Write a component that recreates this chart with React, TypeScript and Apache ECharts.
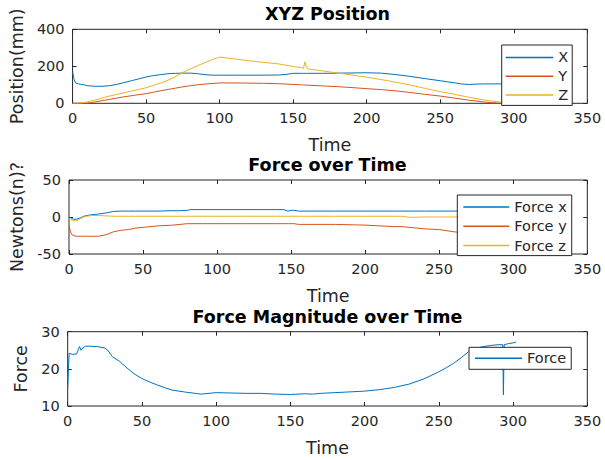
import React, { useEffect, useRef } from "react";
import * as echarts from "echarts";

// ---- Data ----
const posTime = [0, 1, 2, 4, 6, 8, 10, 12, 15, 20, 25, 30, 35, 40, 45, 50, 55, 60, 65, 70, 75, 80, 85, 90, 95, 100, 110, 120, 130, 140, 145, 150, 155, 157, 158, 159, 160, 170, 180, 190, 200, 210, 220, 230, 240, 250, 260, 265, 270, 275, 280, 285, 290, 295, 300];
const posX = [170, 130, 110, 105, 102, 100, 95, 94, 92, 92, 95, 102, 112, 122, 132, 142, 150, 155, 160, 162, 163, 163, 160, 155, 152, 152, 152, 152, 152, 153, 156, 162, 162, 162, 162, 162, 162, 162, 163, 164, 165, 163, 155, 145, 133, 122, 110, 104, 102, 104, 105, 105, 105, 105, 105];
const posY = [0, 0, 0, 0, 0, 0, 1, 3, 7, 14, 21, 28, 35, 41, 47, 52, 60, 68, 75, 82, 89, 95, 100, 104, 107, 110, 110, 109, 108, 106, 104, 102, 100, 99, 99, 98, 98, 94, 90, 85, 79, 74, 67, 58, 48, 39, 28, 22, 16, 12, 7, 3, 1, 0, 0];
const posZ = [0, 0, 0, 1, 2, 5, 8, 12, 17, 28, 39, 48, 57, 66, 75, 84, 97, 110, 125, 145, 167, 185, 203, 220, 236, 250, 240, 230, 221, 213, 206, 199, 193, 190, 224, 196, 186, 175, 164, 153, 141, 128, 114, 98, 80, 63, 48, 40, 32, 25, 18, 12, 7, 3, 1];

const forceTime = [0, 1, 2, 3, 5, 8, 10, 12, 15, 20, 25, 30, 35, 40, 45, 50, 60, 70, 75, 80, 82, 90, 100, 120, 140, 145, 148, 150, 152, 155, 160, 180, 200, 210, 220, 225, 230, 240, 250, 260, 270, 280, 290, 300];
const forceX = [0, -1, -2, -3, -3, -1, 1, 2, 3, 4, 5.5, 7.5, 8, 8, 8, 8, 8, 8.5, 8.5, 9, 10, 10, 10, 10, 10, 10, 8, 9, 9, 8, 8, 8, 8, 8, 8, 8, 8, 8, 8, 8, 8, 8, 8, 8];
const forceY = [-12, -20, -24, -25, -26, -26, -26, -26, -26, -26, -24, -20, -18, -17, -15, -14, -12, -11, -10, -9, -9, -9, -9, -9, -9, -9, -9, -9, -9, -10, -10, -10, -11, -12, -13, -13, -14, -16, -17, -20, -22, -22, -22, -22];
const forceZ = [-3, -4, -4, -5, -5, -2, 0, 1, 2, 2, 1.5, 1, 1, 1, 1, 1, 1, 1, 1, 1, 1, 1, 1, 1, 1, 1, 1, 1, 1, 1, 1, 1, 1, 1, 1, 1, -0.5, 0, 0, 0, 0, 0, 0, 0];

const magTime = [0, 0.5, 1, 3, 6, 7, 8, 9, 10, 12, 15, 20, 25, 27, 30, 35, 40, 45, 50, 55, 60, 65, 70, 80, 90, 100, 110, 120, 130, 140, 150, 160, 165, 170, 180, 190, 200, 210, 220, 230, 240, 250, 255, 260, 265, 270, 275, 280, 285, 290, 293, 293.5, 294, 297, 300, 302];
const magForce = [14.7, 20, 24.2, 23.9, 24, 25, 26, 25, 25.6, 26.1, 26.1, 26, 25.6, 25, 23.3, 22, 20.2, 18.6, 17.4, 16.5, 15.7, 15, 14.3, 13.7, 13.2, 13.6, 13.5, 13.4, 13.4, 13.2, 13.1, 13.3, 13.2, 13.4, 13.6, 13.8, 14, 14.4, 15, 15.9, 17.3, 19.2, 20.3, 21.5, 23, 24.6, 25.5, 26, 26.3, 26.5, 26.5, 13, 26.5, 26.8, 27, 27.2];

const xTicks = { min: 0, max: 350, interval: 50 };
const titles = ["XYZ Position", "Force over Time", "Force Magnitude over Time"];
const yNames = ["Position(mm)", "Newtons(n)?", "Force"];
const yRanges = [
  { min: 0, max: 400, interval: 200 },
  { min: -50, max: 50, interval: 50 },
  { min: 10, max: 30, interval: 10 },
];

const BLUE = "#0072BD";
const ORANGE = "#D95319";
const YELLOW = "#EDB120";
const INK = "#262626";
const FONT = "DejaVu Sans";

const zip = (t: number[], v: number[]) => t.map((x, i) => [x, v[i]]);

export default function App() {
  const ref = useRef<HTMLDivElement>(null);
  useEffect(() => {
    if (!ref.current) return;
    const chart = echarts.init(ref.current, undefined, { renderer: "svg" });
    const plotLeft = 67.7;
    const plotWidth = 519.6;
    const tops = [29.3, 180, 331.7];
    const heights = [74, 74, 74.3];
    const nameGaps = [43, 43, 33];

    const grids = tops.map((t, i) => ({
      left: plotLeft,
      top: t,
      width: plotWidth,
      height: heights[i],
      show: true,
      backgroundColor: "#fff",
      borderColor: INK,
      borderWidth: 1,
    }));

    const tick = { show: true, inside: true, length: 4, lineStyle: { color: INK } };
    const xAxes: any[] = [];
    const yAxes: any[] = [];
    for (let i = 0; i < 3; i++) {
      xAxes.push({
        type: "value",
        gridIndex: i,
        position: "bottom",
        ...xTicks,
        name: "Time",
        nameLocation: "middle",
        nameGap: 33,
        nameTextStyle: { fontSize: 17.5, color: INK, fontFamily: FONT },
        axisLine: { show: false, onZero: false },
        axisTick: tick,
        axisLabel: { fontSize: 14.5, color: INK, margin: 7, fontFamily: FONT },
        splitLine: { show: false },
      });
      xAxes.push({
        type: "value",
        gridIndex: i,
        position: "top",
        ...xTicks,
        axisLine: { show: false, onZero: false },
        axisTick: tick,
        axisLabel: { show: false },
        splitLine: { show: false },
      });
      yAxes.push({
        type: "value",
        gridIndex: i,
        position: "left",
        ...yRanges[i],
        name: yNames[i],
        nameLocation: "middle",
        nameGap: nameGaps[i],
        nameTextStyle: { fontSize: 17.5, color: INK, fontFamily: FONT },
        axisLine: { show: false, onZero: false },
        axisTick: tick,
        axisLabel: { fontSize: 14.5, color: INK, margin: 8, fontFamily: FONT },
        splitLine: { show: false },
      });
      yAxes.push({
        type: "value",
        gridIndex: i,
        position: "right",
        ...yRanges[i],
        axisLine: { show: false, onZero: false },
        axisTick: tick,
        axisLabel: { show: false },
        splitLine: { show: false },
      });
    }

    const line = (name: string, data: number[][], color: string, gi: number) => ({
      type: "line",
      name,
      data,
      xAxisIndex: gi * 2,
      yAxisIndex: gi * 2,
      symbol: "none",
      color,
      lineStyle: { width: 1, color },
      itemStyle: { color },
      clip: true,
    });

    const legendBase = {
      orient: "vertical",
      backgroundColor: "#fff",
      borderColor: INK,
      borderWidth: 1,
      borderRadius: 0,
      icon: "rect",
      itemHeight: 1.5,
      itemGap: 0,
      itemWidth: 47,
      textStyle: { fontSize: 14.5, color: INK, fontFamily: FONT, lineHeight: 18.8 },
    };

    chart.setOption({
      animation: false,
      backgroundColor: "#fff",
      textStyle: { fontFamily: FONT },
      title: titles.map((t, i) => ({
        text: t,
        left: plotLeft + plotWidth / 2,
        textAlign: "center",
        top: tops[i] - 15 - 10,
        padding: 0,
        textStyle: { fontSize: 17.5, fontWeight: "bold", color: "#000", fontFamily: FONT, lineHeight: 20 },
      })),
      grid: grids,
      xAxis: xAxes,
      yAxis: yAxes,
      legend: [
        { ...legendBase, left: 501.7, top: 45, padding: [3, 4, 1, 4], itemWidth: 47.6, data: ["X", "Y", "Z"] },
        { ...legendBase, left: 457.3, top: 195, padding: [2.5, 5, 0.5, 6], itemWidth: 46, textStyle: { ...legendBase.textStyle, lineHeight: 19.2 }, data: ["Force x", "Force y", "Force z"] },
        { ...legendBase, left: 469, top: 347.3, padding: [1.5, 5, 1.5, 6], itemWidth: 47, textStyle: { ...legendBase.textStyle, lineHeight: 19 }, data: ["Force"] },
      ],
      series: [
        line("X", zip(posTime, posX), BLUE, 0),
        line("Y", zip(posTime, posY), ORANGE, 0),
        line("Z", zip(posTime, posZ), YELLOW, 0),
        line("Force x", zip(forceTime, forceX), BLUE, 1),
        line("Force y", zip(forceTime, forceY), ORANGE, 1),
        line("Force z", zip(forceTime, forceZ), YELLOW, 1),
        line("Force", zip(magTime, magForce), BLUE, 2),
      ],
    });
    return () => chart.dispose();
  }, []);
  return (
    <div
      ref={ref}
      style={{ position: "absolute", left: 0, top: 0, width: 605, height: 460, background: "#fff" }}
    />
  );
}
